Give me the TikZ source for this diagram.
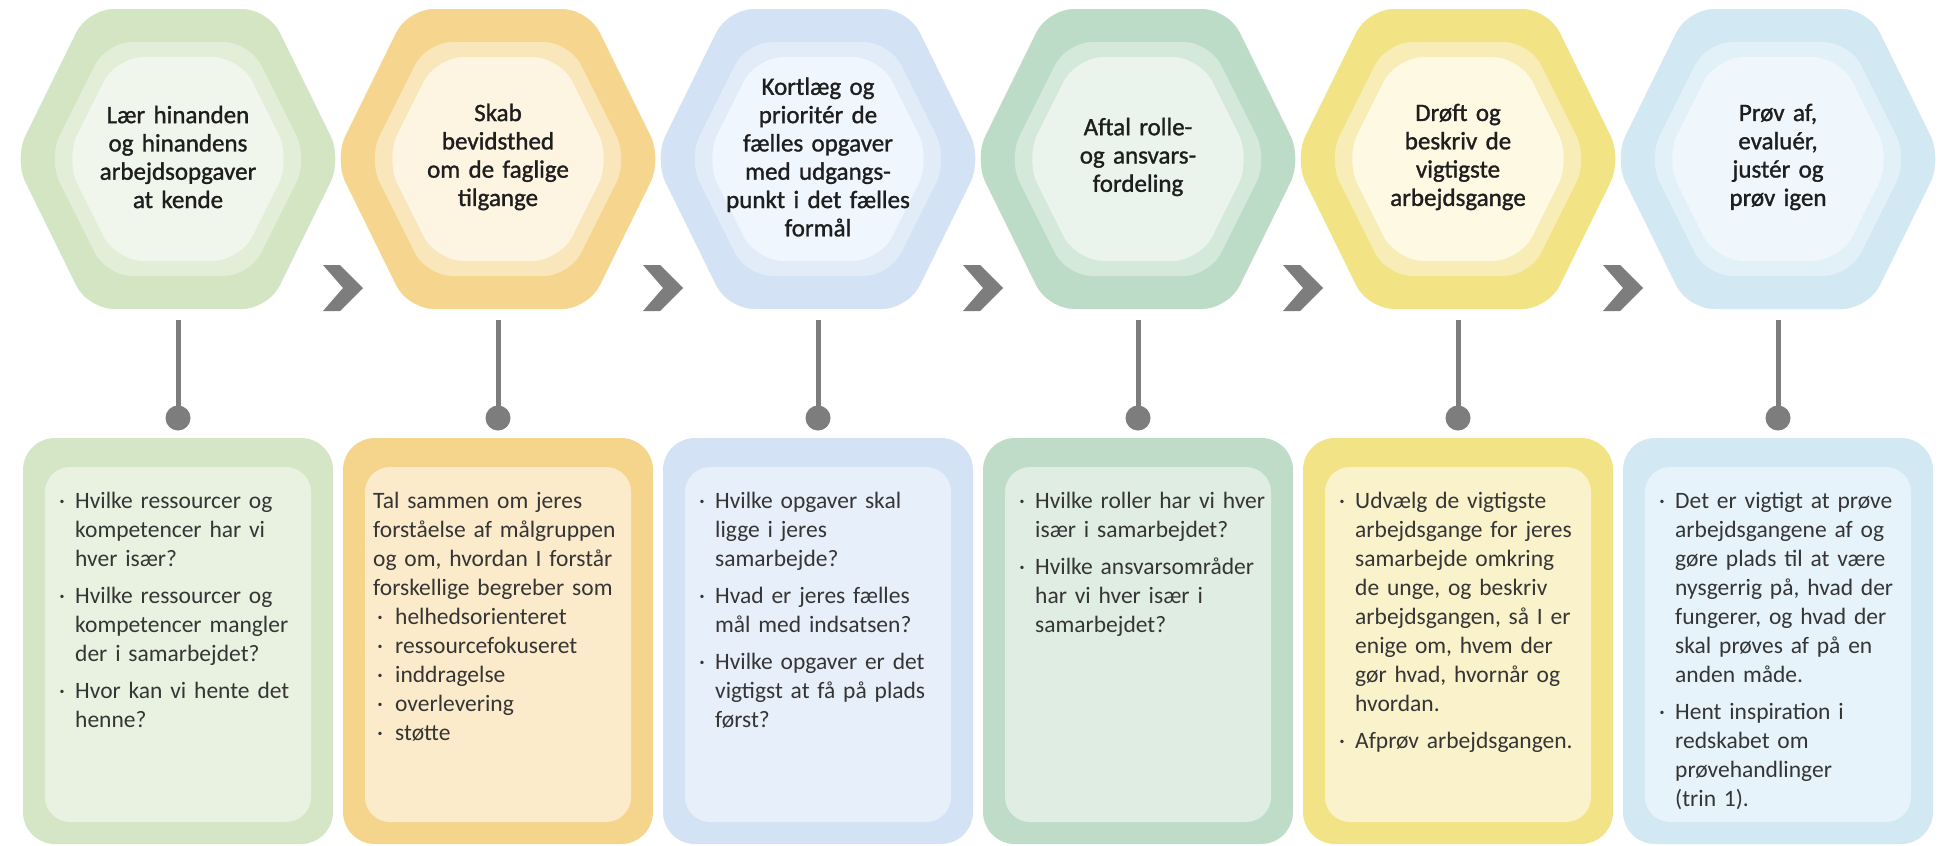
\documentclass[tikz,border=0pt]{standalone}
\usepackage{fontspec}
\setmainfont{Carlito}
\newfontfamily\titlefont[FakeBold=1.2]{Carlito}
\definecolor{gAo}{HTML}{D4E5C3}\definecolor{gAm}{HTML}{E3EED9}\definecolor{gAi}{HTML}{F1F6EC}\definecolor{gAbo}{HTML}{D5E6C6}\definecolor{gAbi}{HTML}{E9F2E1}
\definecolor{gBo}{HTML}{F6D58F}\definecolor{gBm}{HTML}{FAE6BB}\definecolor{gBi}{HTML}{FDF4E1}\definecolor{gBbo}{HTML}{F5D48C}\definecolor{gBbi}{HTML}{FCEBCB}
\definecolor{gCo}{HTML}{D3E3F5}\definecolor{gCm}{HTML}{E2ECF9}\definecolor{gCi}{HTML}{F0F6FD}\definecolor{gCbo}{HTML}{D3E3F5}\definecolor{gCbi}{HTML}{E7EFFA}
\definecolor{gDo}{HTML}{BDDCC7}\definecolor{gDm}{HTML}{D5E9DB}\definecolor{gDi}{HTML}{EAF4EC}\definecolor{gDbo}{HTML}{BEDCC8}\definecolor{gDbi}{HTML}{DFEDE3}
\definecolor{gEo}{HTML}{F2E384}\definecolor{gEm}{HTML}{F8EDB6}\definecolor{gEi}{HTML}{FDF9E2}\definecolor{gEbo}{HTML}{F2E386}\definecolor{gEbi}{HTML}{FAF2CA}
\definecolor{gFo}{HTML}{D2E8F3}\definecolor{gFm}{HTML}{E2F0F8}\definecolor{gFi}{HTML}{F0F7FC}\definecolor{gFbo}{HTML}{D2E8F3}\definecolor{gFbi}{HTML}{E6F3FA}
\definecolor{greyc}{HTML}{7D7D7D}
\definecolor{titlec}{HTML}{1E1E1E}
\definecolor{bodyc}{HTML}{353535}
% hexagon: cx, half width, half height, style
\newcommand\hexfill[4]{\fill[#4] (#1,{159-#3}) -- ({#1+0.55*#2},{159-#3}) -- ({#1+#2},159) -- ({#1+0.55*#2},{159+#3}) -- ({#1-0.55*#2},{159+#3}) -- ({#1-#2},159) -- ({#1-0.55*#2},{159-#3}) -- cycle;}
% full hexagon with three layers: cx, colour prefix
\newcommand\hexstack[2]{%
  \hexfill{#1}{164}{150}{#2o, rounded corners=26pt}%
  \hexfill{#1}{130}{117}{#2m, rounded corners=26pt}%
  \hexfill{#1}{113}{102}{#2i, rounded corners=28pt}}
% card: cx, colour prefix
\newcommand\card[2]{%
  \fill[#2bo, rounded corners=32pt] ({#1-155},438) rectangle ({#1+155},844);
  \fill[#2bi, rounded corners=25pt] ({#1-133},467) rectangle ({#1+133},822);}
\newcommand\chev[1]{\fill[greyc] ({#1-20},265) -- ({#1-3},265) -- ({#1+20},288) -- ({#1-3},311) -- ({#1-20},311) -- (#1,288) -- cycle;}
\newcommand\bul{\makebox[16pt][l]{·}}
\newcommand\nl{\newline\hspace*{16pt}}
\newcommand\itm[1]{\noindent\bul#1}
\newcommand\subitm[1]{\par\noindent\hspace*{4pt}\makebox[18pt][l]{·}#1}
\newcommand\gap{\par\vspace{8pt}}
\tikzset{
  title/.style={align=center, text width=300pt, inner sep=0pt, text=titlec, font=\titlefont\fontsize{25}{28.3}\selectfont},
  body/.style={anchor=base west, text width=250pt, align=left, inner sep=0pt, text=bodyc, font=\fontsize{23.5}{29}\selectfont},
  dot/.style={circle, fill=greyc, minimum size=25pt, inner sep=0pt},
  stem/.style={draw=greyc, line width=5pt}
}
\begin{document}
\begin{tikzpicture}[x=1pt,y=-1pt]
\useasboundingbox (0,0) rectangle (1944,846);
\fill[white] (0,0) rectangle (1944,846);
% hexagons
\hexstack{178}{gA}
\hexstack{498}{gB}
\hexstack{818}{gC}
\hexstack{1138}{gD}
\hexstack{1458}{gE}
\hexstack{1778}{gF}
% chevrons
\chev{343}\chev{663}\chev{983}\chev{1303}\chev{1623}
% titles
\node[title] (h1) at (178,157) {Lær hinanden\\og hinandens\\arbejdsopgaver\\at kende};
\node[title] (h2) at (498,157) {Skab\\bevidsthed\\om de faglige\\tilgange};
\node[title] (h3) at (818,157) {Kortlæg og\\prioritér de\\fælles opgaver\\med udgangs-\\punkt i det fælles\\formål};
\node[title] (h4) at (1138,157) {Aftal rolle-\\og ansvars-\\fordeling};
\node[title] (h5) at (1458,157) {Drøft og\\beskriv de\\vigtigste\\arbejdsgange};
\node[title] (h6) at (1778,157) {Prøv af,\\evaluér,\\justér og\\prøv igen};
% cards
\card{178}{gA}\card{498}{gB}\card{818}{gC}\card{1138}{gD}\card{1458}{gE}\card{1778}{gF}
% stems and dots
\foreach \i/\x in {1/178,2/498,3/818,4/1138,5/1458,6/1778}{
  \coordinate (s\i) at (\x,320);
  \node[dot] (d\i) at (\x,418) {};
  \draw[stem] (s\i) -- (d\i.center);
}
% card texts
\node[body] (t1) at (59,508) {\itm{Hvilke ressourcer og\nl kompetencer har vi\nl hver især?}\gap
\itm{Hvilke ressourcer og\nl kompetencer mangler\nl der i samarbejdet?}\gap
\itm{Hvor kan vi hente det\nl henne?}};
\node[body] (t2) at (373,508) {\noindent Tal sammen om jeres\newline forståelse af målgruppen\newline og om, hvordan I forstår\newline forskellige begreber som
\subitm{helhedsorienteret}
\subitm{ressourcefokuseret}
\subitm{inddragelse}
\subitm{overlevering}
\subitm{støtte}};
\node[body] (t3) at (699,508) {\itm{Hvilke opgaver skal\nl ligge i jeres\nl samarbejde?}\gap
\itm{Hvad er jeres fælles\nl mål med indsatsen?}\gap
\itm{Hvilke opgaver er det\nl vigtigst at få på plads\nl først?}};
\node[body] (t4) at (1019,508) {\itm{Hvilke roller har vi hver\nl især i samarbejdet?}\gap
\itm{Hvilke ansvarsområder\nl har vi hver især i\nl samarbejdet?}};
\node[body] (t5) at (1339,508) {\itm{Udvælg de vigtigste\nl arbejdsgange for jeres\nl samarbejde omkring\nl de unge, og beskriv\nl arbejdsgangen, så I er\nl enige om, hvem der\nl gør hvad, hvornår og\nl hvordan.}\gap
\itm{Afprøv arbejdsgangen.}};
\node[body] (t6) at (1659,508) {\itm{Det er vigtigt at prøve\nl arbejdsgangene af og\nl gøre plads til at være\nl nysgerrig på, hvad der\nl fungerer, og hvad der\nl skal prøves af på en\nl anden måde.}\gap
\itm{Hent inspiration i\nl redskabet om\nl prøvehandlinger\nl (trin 1).}};
\end{tikzpicture}
\end{document}
